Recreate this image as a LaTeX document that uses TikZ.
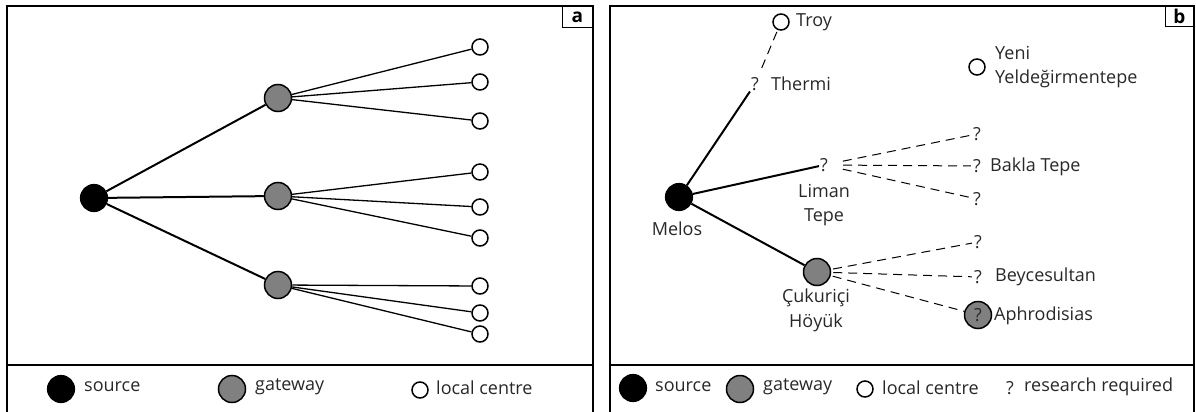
\documentclass[tikz,border=0pt]{standalone}
\usepackage{fontspec}
\setmainfont{Open Sans}
\definecolor{gw}{RGB}{128,128,128}
\definecolor{txt}{RGB}{40,40,40}
\begin{document}
\begin{tikzpicture}[x=1pt,y=-1pt,
  frame/.style={line width=1.2pt},
  srcnode/.style={circle,fill=black,draw=black,line width=1.2pt,minimum size=27pt,inner sep=0pt},
  gwnode/.style={circle,fill=gw,draw=black,line width=1.5pt,minimum size=27pt,inner sep=0pt},
  locnode/.style={circle,fill=white,draw=black,line width=1.5pt,minimum size=16pt,inner sep=0pt},
  lbl/.style={font=\fontsize{18}{24}\selectfont,text=txt,inner sep=0pt},
  qm/.style={font=\fontsize{18}{24}\selectfont,text=txt,inner sep=1pt},
  main/.style={line width=2pt},
  thin/.style={line width=1.3pt},
  dsh/.style={line width=1pt,dash pattern=on 9pt off 6pt},
  tag/.style={draw=black,line width=1.2pt,fill=white,font=\bfseries\fontsize{19}{19}\selectfont,inner sep=0pt,anchor=north east}
]
\useasboundingbox (0,0) rectangle (1196,412);
% ---------- panel a frame ----------
\draw[frame] (7,413) -- (7,6) -- (593,6) -- (593,413);
\draw[frame] (7,365) -- (593,365);
\node[tag,minimum width=30pt,minimum height=21pt] (taga) at (593,6) {a};
% nodes
\node[srcnode] (src) at (94,198) {};
\node[gwnode] (g1) at (278,98) {};
\node[gwnode] (g2) at (278,196) {};
\node[gwnode] (g3) at (278,285) {};
\foreach \i/\y in {1/47,2/82,3/121,4/172,5/207,6/238,7/286,8/313,9/334}{
  \node[locnode] (l\i) at (480,\y) {};
}
\draw[main] (src) -- (g1);
\draw[main] (src) -- (g2);
\draw[main] (src) -- (g3);
\foreach \i in {1,2,3}{\draw[thin] (g1) -- (l\i);}
\foreach \i in {4,5,6}{\draw[thin] (g2) -- (l\i);}
\foreach \i in {7,8,9}{\draw[thin] (g3) -- (l\i);}
% legend a
\node[srcnode] (las) at (61,389) {};
\node[lbl,anchor=west] (lat1) at (84,387) {source};
\node[gwnode] (lag) at (232,389) {};
\node[lbl,anchor=west] (lat2) at (255,387) {gateway};
\node[locnode] (lal) at (420,390) {};
\node[lbl,anchor=west] (lat3) at (436,388) {local centre};
% ---------- panel b frame ----------
\draw[frame] (610,413) -- (610,6) -- (1194,6) -- (1194,413);
\draw[frame] (610,365) -- (1194,365);
\node[tag,minimum width=28pt,minimum height=20pt] (tagb) at (1194,6) {b};
% nodes
\node[srcnode] (melos) at (679,197) {};
\node[lbl] (melost) at (677,229) {Melos};
\node[locnode] (troy) at (781,22) {};
\node[lbl,anchor=west] (troyt) at (796,22) {Troy};
\node[qm] (thq) at (755,84) {?};
\node[lbl,anchor=west] (tht) at (771,84) {Thermi};
\node[locnode] (yeni) at (977,67) {};
\node[lbl,anchor=west,align=left] (yenit) at (995,67) {Yeni\\Yeldeğirmentepe};
\node[qm] (lq) at (824,165) {?};
\node[lbl,align=center] (limt) at (824,205) {Liman\\Tepe};
\node[gwnode] (cg) at (817,272) {};
\node[lbl,align=center,font=\fontsize{18}{25}\selectfont] (cgt) at (816,310) {Çukuriçi\\Höyük};
\node[qm] (q1) at (977,134) {?};
\node[qm] (q2) at (977,166) {?};
\node[lbl,anchor=west] (bakt) at (990,167) {Bakla Tepe};
\node[qm] (q3) at (977,199) {?};
\node[qm] (q4) at (978,242) {?};
\node[qm] (q5) at (978,277) {?};
\node[lbl,anchor=west] (beyt) at (995,277) {Beycesultan};
\node[gwnode] (aph) at (978,315) {};
\node[lbl] (aphq) at (978,315) {?};
\node[lbl,anchor=west] (apht) at (994,316) {Aphrodisias};
% connectors
\draw[main] (melos) -- (thq);
\draw[main] (melos) -- (lq);
\draw[main] (melos) -- (cg);
\draw[dsh,shorten <=2pt,shorten >=6pt] (troy) -- (thq);
\draw[dsh,shorten <=14pt,shorten >=1pt] (lq) -- (q1);
\draw[dsh,shorten <=14pt,shorten >=1pt] (lq) -- (q2);
\draw[dsh,shorten <=14pt,shorten >=1pt] (lq) -- (q3);
\draw[dsh,shorten <=2pt,shorten >=1pt] (cg) -- (q4);
\draw[dsh,shorten <=2pt,shorten >=1pt] (cg) -- (q5);
\draw[dsh,shorten <=2pt] (cg) -- (aph);
% legend b
\node[srcnode] (lbs) at (633,388) {};
\node[lbl,anchor=west] (lbt1) at (655,387) {source};
\node[gwnode] (lbg) at (740,389) {};
\node[lbl,anchor=west] (lbt2) at (763,387) {gateway};
\node[locnode] (lbl) at (865,389) {};
\node[lbl,anchor=west] (lbt3) at (882,388) {local centre};
\node[lbl,anchor=west] (lbq) at (1006,388) {?};
\node[lbl,anchor=west] (lbt4) at (1024,387) {research required};
\end{tikzpicture}
\end{document}
